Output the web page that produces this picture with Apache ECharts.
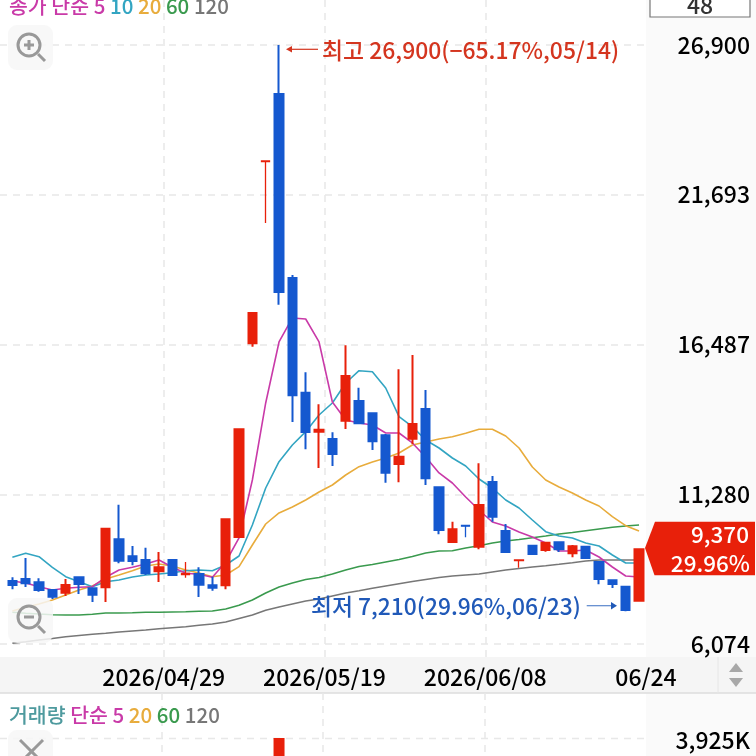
<!DOCTYPE html>
<html><head><meta charset="utf-8">
<style>html,body{margin:0;padding:0;background:#fff;overflow:hidden}#c{width:756px;height:756px}</style>
<script src="https://cdn.jsdelivr.net/npm/echarts@6/dist/echarts.min.js"></script>
</head><body><div id="c"></div>
<script>
const dates=['04/14','04/15','04/16','04/17','04/20','04/21','04/22','04/23','04/24','04/27','04/28','04/29','04/30','05/04','05/06','05/07','05/08','05/11','05/12','05/13','05/14','05/15','05/18','05/19','05/20','05/21','05/22','05/26','05/27','05/28','05/29','06/01','06/02','06/04','06/05','06/08','06/09','06/10','06/11','06/12','06/15','06/16','06/17','06/18','06/19','06/22','06/23','06/24'];
// open, close, low, high
const candles=[
[8264,8125,7976,8393],[8334,8185,8056,9064],[8219,7952,7892,8358],[7952,7719,7639,7952],[7858,8125,7743,8334],[8393,8160,7813,8393],[8011,7788,7534,8045],[8045,10083,7534,10083],
[9714,8970,8880,10917],[9123,8960,8810,9481],[8995,8532,8473,9422],[8602,8741,8230,9273],[8995,8473,8438,8995],[8491,8532,8379,8925],[8508,8136,7708,8741],[8115,8032,7927,8414],
[8115,10410,7976,10410],[9794,13539,9794,13539],[16529,17583,16411,17583],[22850,22868,20712,22868],[25198,18313,17872,26900],[18800,14721,13793,18904],[14812,13445,12844,15521],[13456,13525,12194,14408],
[13202,12680,12263,13435],[13838,15392,13550,16460],[14523,13748,13713,14986],[14095,13122,12819,14095],[13331,12030,11682,13376],[12333,12586,11696,15625],[13212,13723,13028,16123],[14245,11835,11602,14906],
[11522,10038,9888,11522],[9621,10062,9621,10326],[10201,10170,9784,10201],[9457,10907,9367,12357],[11707,10500,10326,11915],[10003,9273,9249,10246],[8970,8995,8727,8995],[9492,9203,9203,9527],
[9342,9596,9283,9596],[9610,9367,9273,9610],[9228,9471,9089,9516],[9457,9064,9064,9457],[8925,8334,8150,8925],[8289,8160,8021,8289],[8066,7256,7210,8066],[7580,9370,7580,9370]];
const ma5=[8264,8195,8066,7952,8011,8045,8066,8393,8647,8741,8856,8995,8741,8532,8497,8393,8925,9760,11776,14454,16575,17409,17374,16575,14488,13862,13758,13689,13410,13410,13063,12576,12020,11672,11185,10733,10316,10177,9968,9794,9586,9308,9308,9342,9099,8751,8438,8404];
const ma10=[9089,9228,9109,8741,8414,8240,8066,8240,8299,8404,8473,8508,8553,8623,8647,8623,8821,9134,10212,11498,12413,12993,13456,14036,14454,15149,15577,15542,14975,13977,13630,13167,12889,12541,12263,11811,11498,11081,10803,10385,9979,9829,9760,9586,9481,9169,8890,8890];
const ma20=[7221,7350,7465,7604,7778,7952,8091,8334,8473,8623,8786,8856,8786,8647,8543,8414,8473,8762,9516,10246,10629,10837,11081,11359,11602,11950,12239,12402,12541,12715,12993,13098,13202,13282,13400,13539,13539,13306,12889,12228,11776,11533,11324,11081,10872,10500,10187,10003];
const ma60=[7176,7141,7117,7093,7082,7082,7107,7152,7152,7162,7176,7176,7187,7197,7211,7221,7291,7420,7604,7847,8056,8195,8317,8386,8508,8647,8769,8838,8925,9012,9116,9238,9308,9318,9412,9492,9586,9655,9708,9770,9829,9899,9951,10013,10073,10132,10177,10212];
const ma120=[6098,6154,6213,6265,6328,6370,6411,6446,6491,6526,6561,6606,6641,6676,6724,6769,6839,6961,7082,7246,7360,7465,7569,7639,7743,7847,7927,8011,8091,8171,8247,8317,8386,8438,8473,8508,8577,8647,8699,8751,8796,8845,8901,8960,8995,8995,8995,8995];
const volumeDate='05/14', volumeTop=3925;
const yTicks=[6074,11280,16487,21693,26900];
const xTickLabels=['','2026/04/29','2026/05/19','2026/06/08','06/24'];
const highNote='최고 26,900(−65.17%,05/14)', lowNote='최저 7,210(29.96%,06/23)';
const lastPrice='9,370', lastRate='29.96%', countBox='48';

const F='"Noto Sans CJK KR","Noto Sans",sans-serif';
const RED='#E8200A', BLUE='#1558CF', DASH='#e8e8e8';
const MAG='#c93aa8',TEAL='#33a5c2',ORG='#e8ac3c',GRN='#3a9a4e',GRY='#777777';
const lineSeries=(d,c)=>({type:'line',data:d,symbol:'none',z:1,silent:true,lineStyle:{color:c,width:1.6},animation:false});
const lineS=g=>({type:'line',shape:g,style:{stroke:'#999',lineWidth:3},z:11});
function icon(y,cy,plus){
  const cx=29;
  const ch=[
   {type:'rect',shape:{x:8,y:y,width:45,height:45,r:9},style:{fill:'#f7f7f7',opacity:.85},z:10},
   {type:'circle',shape:{cx:cx,cy:cy,r:11},style:{fill:'none',stroke:'#999',lineWidth:3},z:11},
   lineS({x1:38,y1:cy+9,x2:45,y2:cy+16}),
   lineS({x1:cx-5,y1:cy,x2:cx+5,y2:cy})];
  if(plus)ch.push(lineS({x1:cx,y1:cy-5,x2:cx,y2:cy+5}));
  return ch;
}
function legend(y,parts){
  return {type:'text',x:9,y:y,z:12,style:{text:parts.map((p,i)=>'{s'+i+'|'+p[0]+'}').join(' '),
    font:'500 20.5px '+F,verticalAlign:'middle',
    rich:Object.fromEntries(parts.map((p,i)=>['s'+i,{fill:p[1],font:'500 20.5px '+F}]))}};
}
const chart=echarts.init(document.getElementById('c'),null,{renderer:'canvas'});
chart.setOption({
 animation:false,backgroundColor:'#fff',
 grid:[
  {left:5.7,width:640,top:45,height:599},
  {left:5.7,width:640,top:738,height:120},
  {left:0,width:646,top:0,height:657},
  {left:0,width:646,top:693,height:63},
  {left:0,width:646,top:45,height:599}],
 xAxis:[
  {type:'category',gridIndex:0,data:dates,show:false},
  {type:'category',gridIndex:1,data:dates,show:false},
  {type:'category',gridIndex:2,data:xTickLabels,boundaryGap:false,z:1,
   axisLine:{show:false},axisTick:{show:false},
   axisLabel:{interval:0,margin:9,color:'#000',fontFamily:F,fontSize:23,fontWeight:500,hideOverlap:false,showMinLabel:true,showMaxLabel:true},
   splitLine:{show:true,interval:(i)=>i>0&&i<4,lineStyle:{type:[7,6],color:DASH,width:1.5}}},
  {type:'category',gridIndex:3,data:xTickLabels,boundaryGap:false,
   axisLine:{show:false},axisTick:{show:false},axisLabel:{show:false},
   splitLine:{show:true,interval:(i)=>i>0&&i<4,lineStyle:{type:[7,6],color:DASH,width:1.5}}},
  {type:'category',gridIndex:4,data:dates,show:false}],
 yAxis:[
  {type:'value',gridIndex:0,min:yTicks[0],max:yTicks[4],scale:true,show:false},
  {type:'value',gridIndex:1,min:-392.5,max:volumeTop,show:false},
  {type:'value',gridIndex:2,min:0,max:1,show:false},
  {type:'value',gridIndex:3,min:0,max:1,show:false},
  {type:'value',gridIndex:4,position:'right',min:yTicks[0],max:yTicks[4],scale:true,
   axisLine:{show:false},axisTick:{show:false,customValues:yTicks},
   axisLabel:{customValues:yTicks,align:'right',margin:104,color:'#000',fontFamily:F,fontSize:23,fontWeight:500,formatter:v=>Number(v).toLocaleString('en-US')},
   splitLine:{show:true,lineStyle:{type:[7,6],color:DASH,width:1.5}}}],
 series:[
  lineSeries(ma120,GRY),lineSeries(ma60,GRN),lineSeries(ma20,ORG),lineSeries(ma10,TEAL),lineSeries(ma5,MAG),
  {type:'candlestick',xAxisIndex:0,yAxisIndex:0,z:3,barWidth:9,silent:true,
   data:candles.map(c=>Math.abs(c[0]-c[1])<50?{value:c,itemStyle:{borderWidth:1.3}}:c),
   itemStyle:{color:RED,color0:BLUE,borderColor:RED,borderColor0:BLUE,borderWidth:2}},
  {type:'bar',xAxisIndex:1,yAxisIndex:1,z:3,barWidth:11,silent:true,itemStyle:{color:RED},
   data:dates.map(d=>d===volumeDate?volumeTop:'-')}
 ],
 graphic:[
  {type:'rect',shape:{x:646,y:0,width:110,height:756},style:{fill:'#fafafa'},z:-1},
  {type:'rect',shape:{x:0,y:657,width:756,height:36},style:{fill:'#f5f5f5'},z:-1},
  {type:'line',shape:{x1:0,y1:693,x2:756,y2:693},style:{stroke:'#dcdcdc',lineWidth:1.5},z:-1},
  {type:'line',shape:{x1:718,y1:657,x2:718,y2:693},style:{stroke:'#e6e6e6',lineWidth:1},z:-1},
  {type:'line',shape:{x1:0,y1:738.5,x2:646,y2:738.5},style:{stroke:DASH,lineWidth:1.5,lineDash:[7,6]},z:-1},
  {type:'polygon',shape:{points:[[729,672],[736,663],[743,672]]},style:{fill:'#a8a8a8'},z:5},
  {type:'polygon',shape:{points:[[729,678],[743,678],[736,687]]},style:{fill:'#a8a8a8'},z:5},
  {type:'rect',shape:{x:650,y:-5,width:100,height:22},style:{fill:'#fff',stroke:'#777',lineWidth:1.2},z:5},
  {type:'text',x:700,y:5,z:6,style:{text:countBox,fill:'#333',font:'500 23px '+F,align:'center',verticalAlign:'middle'}},
  {type:'text',x:750,y:740,z:6,style:{text:'3,925K',fill:'#000',font:'500 23px '+F,align:'right',verticalAlign:'middle'}},
  legend(6,[['종가 단순 5',MAG],['10',TEAL],['20',ORG],['60',GRN],['120',GRY]]),
  legend(715,[['거래량','#4e9a9e'],['단순 5',MAG],['20',ORG],['60',GRN],['120',GRY]]),
  ...icon(25,45,true),
  ...icon(598,617,false),
  {type:'rect',shape:{x:8,y:730,width:45,height:40,r:9},style:{fill:'#f7f7f7',opacity:.85},z:10},
  lineS({x1:20,y1:740,x2:43,y2:763}),lineS({x1:43,y1:740,x2:20,y2:763}),
  {type:'polygon',shape:{points:[[645,548],[655,521.7],[755,521.7],[755,575.3],[654.5,575.3]]},style:{fill:RED},z:7},
  {type:'text',x:749,y:534,z:8,style:{text:lastPrice,fill:'#fff',font:'500 22.5px '+F,align:'right',verticalAlign:'middle'}},
  {type:'text',x:750,y:563,z:8,style:{text:lastRate,fill:'#fff',font:'500 22.5px '+F,align:'right',verticalAlign:'middle'}},
  {type:'line',shape:{x1:290,y1:49.3,x2:318,y2:49.3},style:{stroke:'#d4351f',lineWidth:1.2},z:8},
  {type:'polygon',shape:{points:[[286,49.3],[292,46],[292,52.6]]},style:{fill:'#d4351f'},z:8},
  {type:'text',x:322,y:50,z:8,style:{text:highNote,fill:'#d4351f',font:'500 22.9px '+F,verticalAlign:'middle'}},
  {type:'line',shape:{x1:586.7,y1:605.7,x2:612,y2:605.7},style:{stroke:'#5a86cc',lineWidth:1.2},z:8},
  {type:'polygon',shape:{points:[[617,605.7],[611,602],[611,609.4]]},style:{fill:'#2059b8'},z:8},
  {type:'text',x:311,y:606,z:8,style:{text:lowNote,fill:'#2059b8',font:'500 22.8px '+F,verticalAlign:'middle'}}
 ]
});
</script></body></html>
